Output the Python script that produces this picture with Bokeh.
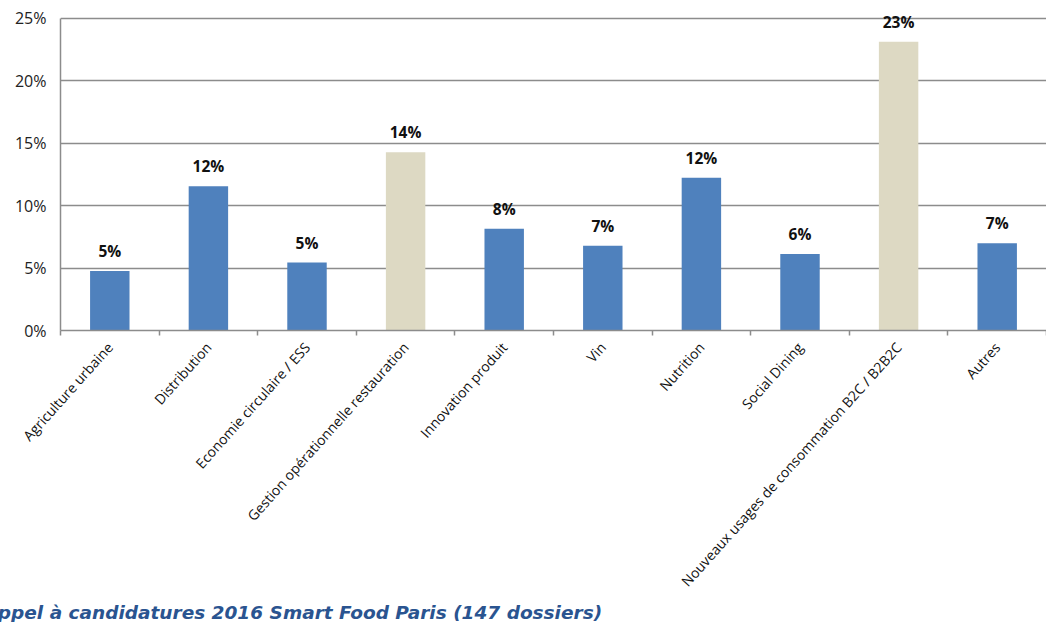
from bokeh.plotting import figure
from bokeh.models import (ColumnDataSource, FactorRange, Range1d, LinearAxis, CategoricalAxis,
                          FixedTicker, NumeralTickFormatter, LabelSet, Title, CategoricalTicker)
from bokeh.core.properties import value
from bokeh.embed import file_html
from bokeh.resources import INLINE

categories = ["Agriculture urbaine", "Distribution", "Economie circulaire / ESS",
              "Gestion opérationnelle restauration", "Innovation produit", "Vin",
              "Nutrition", "Social Dining", "Nouveaux usages de consommation B2C / B2B2C", "Autres"]
shares = [0.0476, 0.1156, 0.0544, 0.1429, 0.0816, 0.0680, 0.1224, 0.0612, 0.2313, 0.0699]
highlighted = ["Gestion opérationnelle restauration", "Nouveaux usages de consommation B2C / B2B2C"]
y_ticks = [0, 0.05, 0.10, 0.15, 0.20, 0.25]
title_text = "Appel à candidatures 2016 Smart Food Paris (147 dossiers)"

BLUE = "#4f81bd"
BEIGE = "#ddd9c3"
GRID = "#8c8c8c"

source = ColumnDataSource(dict(
    cat=categories,
    share=shares,
    label=[f"{v:.0%}" for v in shares],
    color=[BEIGE if c in highlighted else BLUE for c in categories],
))

# a little headroom above 25% so the top data label is not clipped
p = figure(x_range=FactorRange(*categories), y_range=Range1d(0, 0.2644),
           frame_width=986, frame_height=330, output_backend="svg", toolbar_location=None,
           x_axis_location=None, min_border_left=60, min_border_right=0,
           min_border_top=0, min_border_bottom=0)
p.outline_line_color = None
p.background_fill_color = "white"
p.border_fill_color = "white"

p.vbar(x="cat", top="share", width=0.4, source=source, fill_color="color", line_color=None)

labels = LabelSet(x="cat", y="share", text="label", source=source, text_align="center",
                  text_baseline="bottom", y_offset=9, text_font=value("Open Sans"),
                  text_font_size="15.5px", text_font_style="bold", text_color="#111111")
p.add_layout(labels)

# y axis
p.yaxis.ticker = FixedTicker(ticks=y_ticks)
p.yaxis.bounds = (0, 0.25)
p.yaxis.formatter = NumeralTickFormatter(format="0%")
p.yaxis.major_tick_out = 0
p.yaxis.major_tick_in = 0
p.yaxis.minor_tick_line_color = None
p.yaxis.axis_line_color = GRID
p.yaxis.axis_line_width = 1.5
p.yaxis.major_label_text_font = "Open Sans"
p.yaxis.major_label_text_font_size = "16px"
p.yaxis.major_label_text_color = "#222222"
p.yaxis.major_label_standoff = 14

p.xgrid.grid_line_color = None
p.ygrid.ticker = FixedTicker(ticks=y_ticks)
p.ygrid.grid_line_color = GRID
p.ygrid.grid_line_width = 1.5

# boundary tick marks between categories (synthetic coordinates of the factor range)
tick_axis = LinearAxis(ticker=FixedTicker(ticks=list(range(len(categories) + 1))),
                       major_label_text_font_size="0px", major_label_standoff=0,
                       major_tick_out=5, major_tick_in=0, minor_tick_line_color=None,
                       axis_line_color=GRID, axis_line_width=1.5,
                       major_tick_line_color=GRID, major_tick_line_width=1.5)
p.add_layout(tick_axis, "below")

cat_axis = CategoricalAxis(ticker=CategoricalTicker(), axis_line_color=None,
                           major_tick_line_color=None, major_tick_out=0, major_tick_in=0,
                           major_label_orientation=0.84, major_label_standoff=9,
                           major_label_text_font="Open Sans", major_label_text_font_size="14px",
                           major_label_text_color="#111111")
p.add_layout(cat_axis, "below")

title = Title(text=title_text, align="left", offset=-77, standoff=0,
              text_font="DejaVu Sans", text_font_size="18.5px", text_font_style="bold italic",
              text_color="#2a5490")
p.add_layout(title, "below")

open("out.html", "w").write(file_html(p, INLINE))
